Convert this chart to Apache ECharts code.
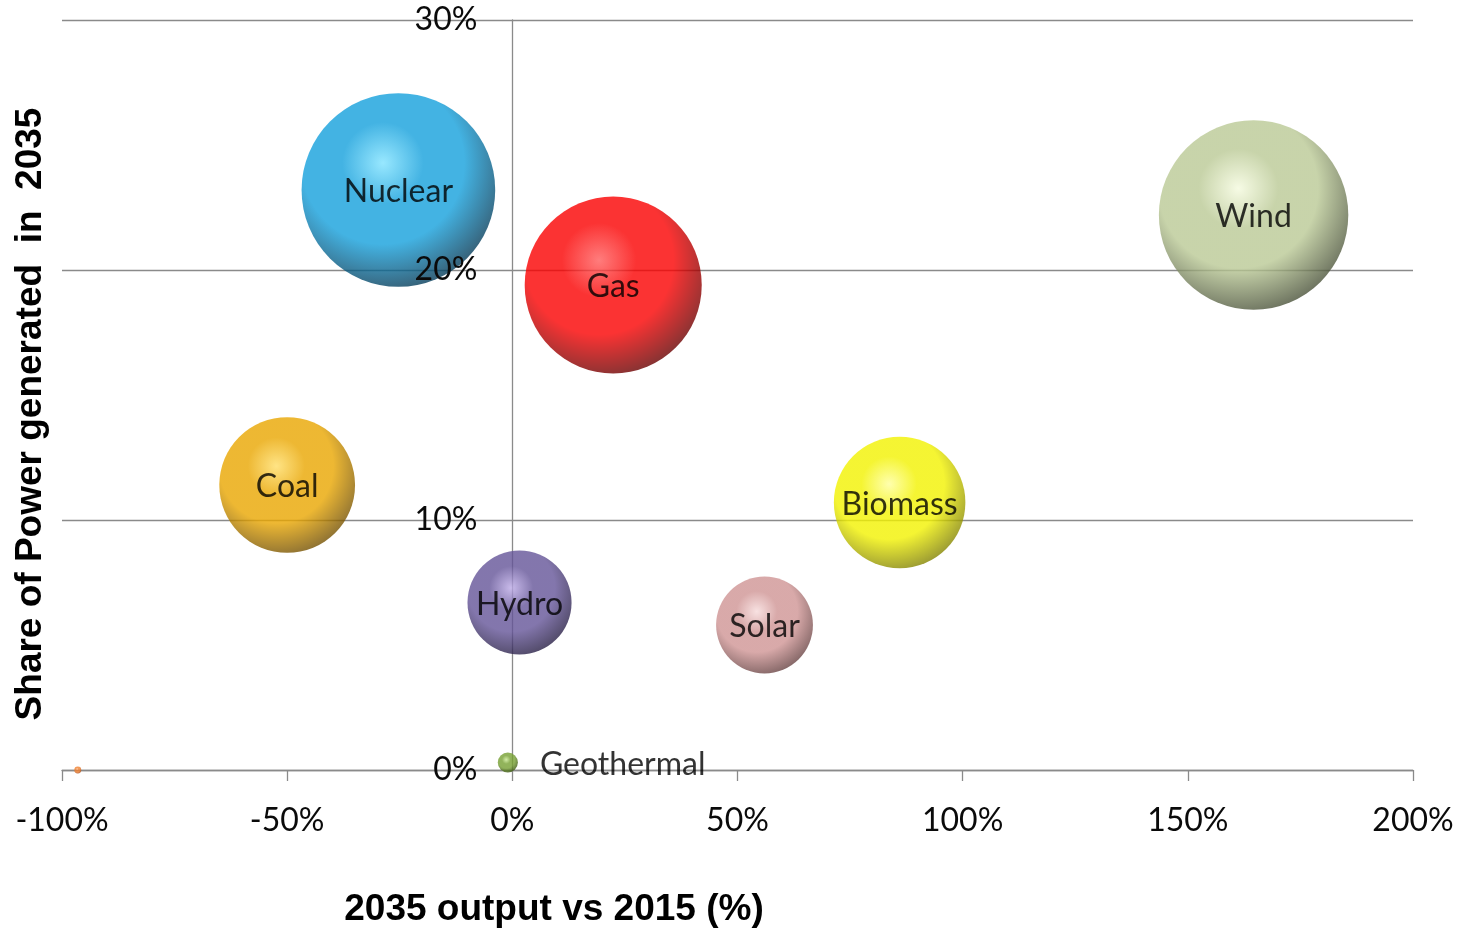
<!DOCTYPE html>
<html>
<head>
<meta charset="utf-8">
<script src="https://cdn.jsdelivr.net/npm/echarts@6/dist/echarts.min.js"></script>
<style>
  html, body { margin: 0; padding: 0; background: #ffffff; }
  #chart { width: 1463px; height: 929px; }
</style>
</head>
<body>
<div id="chart"></div>
<script>
// ---- data ----
var sources   = ['Nuclear', 'Gas', 'Wind', 'Coal', 'Biomass', 'Hydro', 'Solar', 'Geothermal', ''];
var growth    = [-25.3, 22.4, 164.6, -50.0, 86.0, 1.6, 56.0, -1.0, -96.5];   // 2035 output vs 2015 (%)
var share2035 = [23.2, 19.4, 22.2, 11.4, 10.7, 6.7, 5.8, 0.3, 0.0];          // share of power in 2035 (%)
var bubble    = [23.2, 19.4, 22.2, 11.4, 10.7, 6.7, 5.8, 0.25, 0.03];        // bubble size value
var xTicks    = [-100, -50, 0, 50, 100, 150, 200];
var yTicks    = [0, 10, 20, 30];

// colours: [highlight, base, dark]
var palette = [
  ['#7ee2ff', '#14a0dc', '#022a42'],
  ['#ff5c5c', '#fa0000', '#520000'],
  ['#f4fade', '#bac995', '#383f2a'],
  ['#ffdd66', '#e9a600', '#624300'],
  ['#ffff99', '#f2f200', '#727200'],
  ['#bcaae6', '#645498', '#1e1638'],
  ['#f6dada', '#cf9494', '#583636'],
  ['#c8e890', '#76a032', '#304a0a'],
  ['#ffc090', '#f08030', '#a04010']
];

function sphere(c) {
  return {
    type: 'radial', x: 0.42, y: 0.36, r: 0.7,
    colorStops: [
      { offset: 0, color: c[0] },
      { offset: 0.3, color: c[1] },
      { offset: 0.6, color: c[1] },
      { offset: 1, color: c[2] }
    ]
  };
}

var seriesData = sources.map(function (name, i) {
  var item = {
    name: name,
    value: [growth[i], share2035[i], bubble[i]],
    itemStyle: { color: sphere(palette[i]) },
    label: { show: name !== '' }
  };
  if (name === 'Geothermal') {
    item.label = { show: true, position: 'right', distance: 22, offset: [0, 2] };
  }
  return item;
});

var labelFont = 'Lato, "Open Sans", sans-serif';
var gridLeft = 62, gridRight = 50;
var chartW = 1463;
var plotW = chartW - gridLeft - gridRight;
// horizontal distance from the plot's left edge to the x = 0 line (for the label-only y axis)
var zeroOffset = plotW * (0 - xTicks[0]) / (xTicks[xTicks.length - 1] - xTicks[0]);

var chart = echarts.init(document.getElementById('chart'), null, { renderer: 'canvas' });
chart.setOption({
  animation: false,
  backgroundColor: '#ffffff',
  grid: { left: gridLeft, right: gridRight, top: 20, bottom: 159, containLabel: false, outerBoundsMode: 'none' },
  xAxis: {
    type: 'value',
    min: xTicks[0], max: xTicks[xTicks.length - 1], interval: 50,
    axisLine: { onZero: false, lineStyle: { color: '#8a8a8a', width: 1.3 } },
    axisTick: { show: true, inside: false, length: 11, lineStyle: { color: '#8a8a8a', width: 1.3 } },
    splitLine: { show: false },
    axisLabel: {
      margin: 35, color: '#0a0a0a', fontSize: 32, fontFamily: labelFont,
      formatter: '{value}%'
    }
  },
  yAxis: [
    {
      type: 'value',
      position: 'left',
      min: yTicks[0], max: yTicks[yTicks.length - 1], interval: 10,
      axisLine: { show: true, onZero: true, onZeroAxisIndex: 0, lineStyle: { color: '#8a8a8a', width: 1.3 } },
      axisTick: { show: false },
      axisLabel: { show: false },
      splitLine: { show: true, lineStyle: { color: '#8a8a8a', width: 1.3 } },
      z: 0
    },
    {
      type: 'value',
      position: 'left',
      offset: -zeroOffset,
      min: yTicks[0], max: yTicks[yTicks.length - 1], interval: 10,
      axisLine: { show: false, onZero: false },
      axisTick: { show: false },
      splitLine: { show: false },
      axisLabel: {
        margin: 35, color: '#0a0a0a', fontSize: 32, fontFamily: labelFont,
        formatter: '{value}%', padding: [3, 0, 0, 0]
      },
      z: 20
    }
  ],
  series: [{
    type: 'scatter',
    yAxisIndex: 0,
    z: 5,
    symbol: 'circle',
    symbolSize: function (val) { return 40.2 * Math.sqrt(val[2]); },
    label: {
      show: true,
      position: 'inside',
      formatter: '{b}',
      color: '#000000',
      fontSize: 32,
      fontFamily: labelFont,
      offset: [0, 2]
    },
    emphasis: { disabled: true },
    data: seriesData
  }],
  graphic: [
    {
      type: 'text',
      x: 31, y: 414,
      rotation: Math.PI / 2,
      style: {
        text: 'Share of Power generated  in  2035',
        font: 'bold 37px "Liberation Sans", Arial, sans-serif',
        fill: '#000000',
        align: 'center',
        verticalAlign: 'middle'
      }
    },
    {
      type: 'text',
      x: 554, y: 910,
      style: {
        text: '2035 output vs 2015 (%)',
        font: 'bold 37px "Liberation Sans", Arial, sans-serif',
        fill: '#000000',
        align: 'center',
        verticalAlign: 'middle'
      }
    }
  ]
});
</script>
</body>
</html>
